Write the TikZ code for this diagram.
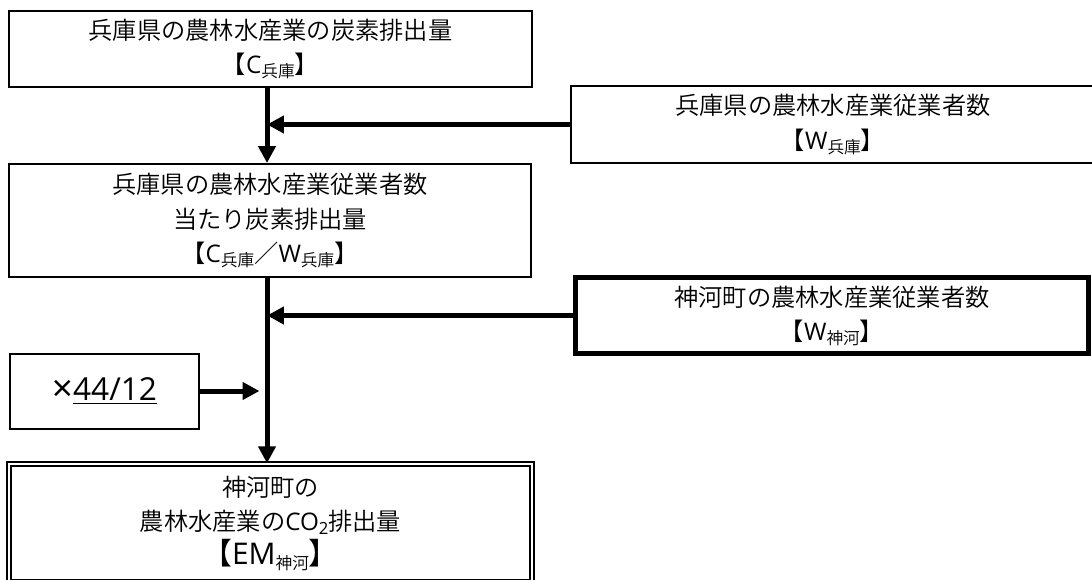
\documentclass[tikz,border=0pt]{standalone}
\usepackage{fontspec}
\setmainfont{Noto Sans CJK JP}[UprightFont=* DemiLight]
\newfontfamily\latinfont{Open Sans}
\usepackage{tikz}
\usetikzlibrary{arrows.meta}

% small lowered text for place names
\newcommand{\placesub}[1]{\raisebox{-0.3ex}{\fontsize{9.5}{10}\selectfont #1}}
% latin letters in a wider face
\newcommand{\lt}[1]{{\latinfont #1}}

\begin{document}
\begin{tikzpicture}[x=0.02cm, y=-0.02cm,
    box/.style={draw, line width=0.04cm, align=center, inner sep=0pt,
        font=\fontsize{13.8}{19.4}\selectfont},
    arr/.style={-{Triangle[length=0.34cm,width=0.34cm]}, line width=0.1cm}]

    % Set picture size (pixels of the reference)
    \useasboundingbox (0,0) rectangle (1092,579);

    % x position of the main vertical line
    \pgfmathsetmacro{\trunkx}{267}
    \coordinate (trunk) at (\trunkx,0);

    % Draw carbon emission box of Hyogo
    \node[box, minimum width=10.46cm, minimum height=1.52cm] (chyogo) at (270.5,49)
        {兵庫県の農林水産業の炭素排出量\\【\lt{C}\placesub{兵庫}】};

    % Draw worker box of Hyogo
    \node[box, minimum width=10.5cm, minimum height=1.54cm] (whyogo) at (833,124.5)
        {兵庫県の農林水産業従業者数\\【\lt{W}\placesub{兵庫}】};

    % Draw per worker box
    \node[box, minimum width=10.44cm, minimum height=2.26cm] (ratio) at (270,220.5)
        {兵庫県の農林水産業従業者数\\当たり炭素排出量\\【\lt{C}\placesub{兵庫}／\lt{W}\placesub{兵庫}】};

    % Draw worker box of Kamikawa
    \node[box, line width=0.1cm, minimum width=10.26cm, minimum height=1.52cm] (wkamikawa) at (832,315.5)
        {神河町の農林水産業従業者数\\【\lt{W}\placesub{神河}】};

    % Draw factor box
    \node[box, minimum width=3.8cm, minimum height=1.5cm, font=\fontsize{18}{22}\selectfont\latinfont] (factor) at (104.5,391)
        {\raisebox{-0.05ex}{\fontsize{21}{22}\selectfont ×}\underline{44/12}};

    % Draw result box with double border
    \node[box, line width=0.03cm, double, double distance=0.05cm, minimum width=10.46cm, minimum height=2.36cm] (emkamikawa) at (270.5,523)
        {神河町の\\農林水産業の\lt{CO}\placesub{\lt{2}}排出量\\{\fontsize{17}{20}\selectfont 【\lt{EM}\placesub{神河}】}};

    % Draw arrows
    \draw[arr] (chyogo.south -| trunk) -- (ratio.north -| trunk);
    \draw[arr] (whyogo.west) -- (whyogo.west -| trunk);
    \draw[arr] (ratio.south -| trunk) -- (emkamikawa.north -| trunk);
    \draw[arr] (wkamikawa.west) -- (wkamikawa.west -| trunk);
    \draw[arr, shorten >=0.15cm] (factor.east) -- (factor.east -| trunk);
\end{tikzpicture}
\end{document}
